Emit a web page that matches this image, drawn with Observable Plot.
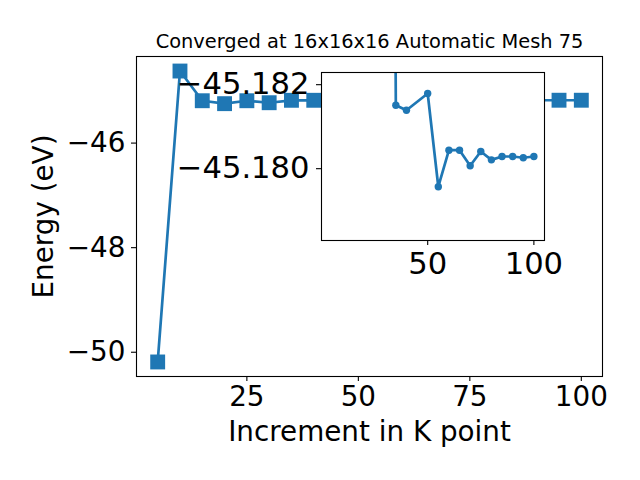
<!DOCTYPE html>
<html>
<head>
<meta charset="utf-8">
<script src="https://cdn.jsdelivr.net/npm/d3@7"></script>
<script src="https://cdn.jsdelivr.net/npm/@observablehq/plot@0.6"></script>
<style>
  body { margin: 0; background: white; }
  #wrap { position: relative; width: 640px; height: 480px; font-family: "DejaVu Sans", sans-serif; }
  #wrap svg { position: absolute; left: 0; top: 0; max-width: none; overflow: visible; }
</style>
</head>
<body>
<div id="wrap"></div>
<script>
// K-point increments and total energy (eV)
const kpoints = [5, 10, 15, 20, 25, 30, 35, 40, 50, 55, 60, 65, 70, 75, 80, 85, 90, 95, 100];
const energy = [-50.186, -44.622, -45.19, -45.246, -45.19, -45.228, -45.18151, -45.18139, -45.18179,
  -45.17957, -45.18044, -45.18044, -45.18007, -45.18041, -45.18021, -45.18029, -45.18029, -45.18026, -45.18029];

const titleText = "Converged at 16x16x16 Automatic Mesh 75";
const xLabel = "Increment in K point";
const yLabel = "Energy (eV)";
const mainXTicks = [25, 50, 75, 100];
const mainYTicks = [-46, -48, -50];
const insetXTicks = [50, 100];
const insetYTicks = [-45.182, -45.180];
const insetFrom = 30;

const data = kpoints.map((k, i) => ({k, e: energy[i]}));
const insetData = data.filter(d => d.k >= insetFrom);
const blue = "#1f77b4";

const main = Plot.plot({
  width: 640, height: 480,
  marginLeft: 136, marginRight: 38, marginTop: 56, marginBottom: 104,
  style: {fontFamily: "DejaVu Sans", background: "white", color: "black"},
  x: {domain: [0.25, 104.75], axis: null},
  y: {domain: [-50.464, -44.344], axis: null},
  marks: [
    Plot.line(data, {x: "k", y: "e", stroke: blue, strokeWidth: 2.7}),
    Plot.dot(data, {x: "k", y: "e", symbol: "square", r: 8.4, fill: blue, stroke: "none"}),
    Plot.frame({stroke: "black", strokeWidth: 1.1}),
    Plot.axisX({ticks: mainXTicks, tickSize: 5, tickPadding: 5, fontSize: 27.8, label: null, tickFormat: d3.format("d"), strokeWidth: 1.1}),
    Plot.axisY({ticks: mainYTicks, tickSize: 5, tickPadding: 6, fontSize: 27.8, label: null, tickFormat: d3.format("d"), strokeWidth: 1.1}),
    Plot.text([titleText], {frameAnchor: "top", dy: -14.7, fontSize: 19.4, lineAnchor: "middle", textAnchor: "middle", fill: "black"}),
    Plot.text([xLabel], {frameAnchor: "bottom", dy: 56, fontSize: 27.8, lineAnchor: "middle", textAnchor: "middle", fill: "black"}),
    Plot.text([yLabel], {frameAnchor: "left", dx: -92, rotate: -90, fontSize: 27.8, lineAnchor: "middle", textAnchor: "middle", fill: "black"})
  ]
});

const inset = Plot.plot({
  width: 640, height: 480,
  marginLeft: 321, marginRight: 96, marginTop: 72, marginBottom: 240,
  style: {fontFamily: "DejaVu Sans", background: "transparent", color: "black"},
  x: {domain: [0, 105], axis: null},
  y: {domain: [-45.18229, -45.17829], reverse: true, axis: null},
  marks: [
    Plot.frame({fill: "white"}),
    Plot.line(insetData, {x: "k", y: "e", stroke: blue, strokeWidth: 2.7, clip: true}),
    Plot.dot(insetData, {x: "k", y: "e", r: 3.7, fill: blue, stroke: "none", clip: true}),
    Plot.frame({stroke: "black", strokeWidth: 1.1}),
    Plot.axisX({ticks: insetXTicks, tickSize: 5, tickPadding: 7, fontSize: 30.6, label: null, tickFormat: d3.format("d"), strokeWidth: 1.1}),
    Plot.axisY({ticks: insetYTicks, tickSize: 5, tickPadding: 7, fontSize: 30.6, label: null, tickFormat: d3.format(".3f"), strokeWidth: 1.1})
  ]
});

const wrap = document.getElementById("wrap");
wrap.appendChild(main);
wrap.appendChild(inset);
</script>
</body>
</html>
